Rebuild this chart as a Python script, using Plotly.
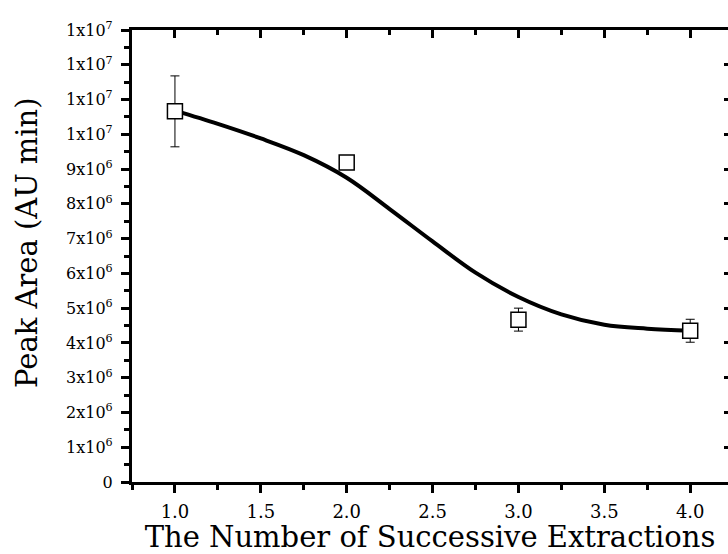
import plotly.graph_objects as go

# measured data
x_pts = [1.0, 2.0, 3.0, 4.0]
y_pts = [10.66e6, 9.19e6, 4.67e6, 4.35e6]
y_err = [1.02e6, 0.15e6, 0.33e6, 0.33e6]

# fitted curve
curve_x = [1.0, 1.25, 1.5, 1.75, 2.0, 2.25, 2.5, 2.75, 3.0, 3.25, 3.5, 3.75, 4.0]
curve_y = [10.68e6, 10.30e6, 9.88e6, 9.40e6, 8.75e6, 7.85e6, 6.92e6, 6.02e6,
           5.32e6, 4.82e6, 4.52e6, 4.41e6, 4.35e6]

y_tickvals = [i * 1e6 for i in range(14)]
y_ticktext = ["0"] + [f"{i}x10<sup>6</sup>" for i in range(1, 10)] + ["1x10<sup>7</sup>"] * 4
x_tickvals = [1.0, 1.5, 2.0, 2.5, 3.0, 3.5, 4.0]
x_ticktext = ["1.0", "1.5", "2.0", "2.5", "3.0", "3.5", "4.0"]
x_title = "The Number of Successive Extractions"
y_title = "Peak Area (AU min)"

FONT = "DejaVu Serif"
XR = [0.75, 4.22]
YR = [0, 1.3e7]
PAD = "\u00a0"

fig = go.Figure()
fig.add_trace(go.Scatter(x=curve_x, y=curve_y, mode="lines",
                         line=dict(color="black", width=4, shape="spline", smoothing=1.0),
                         showlegend=False, hoverinfo="skip"))
fig.add_trace(go.Scatter(x=x_pts, y=y_pts, mode="markers",
                         marker=dict(symbol="square", size=15, color="white",
                                     line=dict(color="black", width=1.5)),
                         error_y=dict(type="data", array=y_err, visible=True,
                                      color="black", thickness=1, width=4.5),
                         showlegend=False))
fig.add_trace(go.Scatter(x=[None], y=[None], xaxis="x2", yaxis="y2", showlegend=False))

fig.update_layout(
    width=728, height=554,
    margin=dict(l=132, r=0, t=30, b=72),
    paper_bgcolor="white", plot_bgcolor="white",
    font=dict(family=FONT, color="black", size=17),
    xaxis=dict(range=XR, tickvals=x_tickvals, ticktext=x_ticktext,
               showgrid=False, zeroline=False, showline=True, linecolor="black", linewidth=3,
               ticks="outside", ticklen=8, tickwidth=2.5, tickcolor="black",
               minor=dict(dtick=0.25, tick0=0, ticks="outside", ticklen=5, tickwidth=2.5, tickcolor="black"),
               tickfont=dict(family=FONT, size=18), ticklabelstandoff=3,
               title=dict(text=x_title, font=dict(family=FONT, size=29), standoff=4),
               automargin=False),
    yaxis=dict(range=YR, tickvals=y_tickvals, ticktext=[t + PAD for t in y_ticktext],
               showgrid=False, zeroline=False, showline=True, linecolor="black", linewidth=3,
               ticks="outside", ticklen=8, tickwidth=2.5, tickcolor="black",
               minor=dict(dtick=0.5e6, tick0=0, ticks="outside", ticklen=5, tickwidth=2.5, tickcolor="black"),
               tickfont=dict(family=FONT, size=16),
               automargin=False),
    xaxis2=dict(range=XR, overlaying="x", side="top", anchor="y",
                tickvals=x_tickvals, showticklabels=False,
                showgrid=False, zeroline=False, showline=True, linecolor="black", linewidth=3,
                ticks="inside", ticklen=8, tickwidth=2.5, tickcolor="black",
                minor=dict(dtick=0.25, tick0=0, ticks="inside", ticklen=5, tickwidth=2.5, tickcolor="black")),
    yaxis2=dict(range=YR, overlaying="y", side="right", anchor="x",
                tickvals=y_tickvals, showticklabels=False,
                showgrid=False, zeroline=False, showline=False,
                ticks="inside", ticklen=4, tickwidth=2.5, tickcolor="black"),
    annotations=[dict(text=y_title, textangle=-90, xref="paper", yref="paper",
                      x=-0.176, y=0.529, xanchor="center", yanchor="middle",
                      showarrow=False, font=dict(family=FONT, size=29, color="black"))],
)

fig.write_html("out.html")
